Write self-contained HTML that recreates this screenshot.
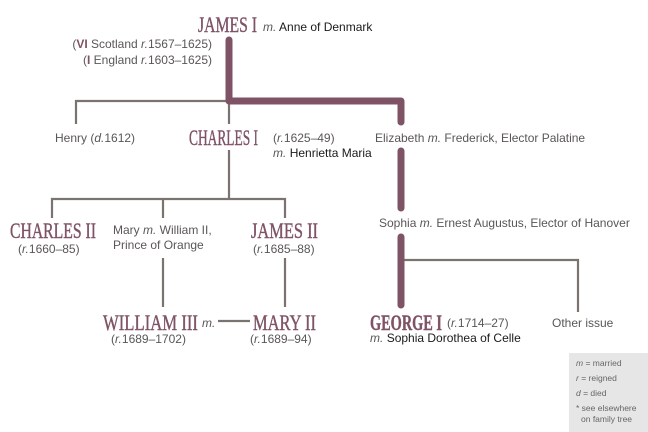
<!DOCTYPE html>
<html><head><meta charset="utf-8"><style>
html,body{margin:0;padding:0;background:#fff;}
svg{display:block;}
.t{font-family:"Liberation Sans",sans-serif;font-size:12px;fill:#5a5656;}
.b{fill:#1a1a1a;}
.n{font-family:"Liberation Serif",serif;font-size:22px;fill:#7f5366;stroke:#7f5366;stroke-width:0.4;}
.i{font-style:italic;}
.p{fill:#7f5366;font-weight:bold;}
.l{font-family:"Liberation Sans",sans-serif;font-size:8.5px;fill:#666;}
</style></head><body>
<svg width="648" height="432" viewBox="0 0 648 432" xmlns="http://www.w3.org/2000/svg">
<g stroke="#7a7370" stroke-width="2.2" fill="none">
<polyline points="76,124 76,101 229,101 229,124"/>
<line x1="229" y1="150" x2="229" y2="199"/>
<polyline points="52,218 52,199 285,199 285,218"/>
<line x1="163" y1="199" x2="163" y2="218"/>
<line x1="163" y1="258" x2="163" y2="307"/>
<line x1="285" y1="258" x2="285" y2="307"/>
<line x1="218" y1="321" x2="250" y2="321"/>
<polyline points="402,260 578,260 578,312"/>
</g>
<g stroke="#7f5366" stroke-width="7" fill="none" stroke-linecap="round" stroke-linejoin="round">
<polyline points="229,40 229,101 401,101 401,122"/>
<line x1="401" y1="151" x2="401" y2="208"/>
<line x1="401" y1="237" x2="401" y2="305"/>
</g>
<text class="n" x="198" y="32" textLength="59" lengthAdjust="spacingAndGlyphs">JAMES I</text>
<text class="t" x="263" y="31"><tspan class="i">m.</tspan> <tspan class="b">Anne of Denmark</tspan></text>
<text class="t" x="212" y="48" text-anchor="end">(<tspan class="p">VI</tspan> Scotland <tspan class="i">r.</tspan>1567–1625)</text>
<text class="t" x="212" y="64" text-anchor="end">(<tspan class="p">I</tspan> England <tspan class="i">r.</tspan>1603–1625)</text>
<text class="t" x="55" y="142">Henry (<tspan class="i">d.</tspan>1612)</text>
<text class="n" x="189" y="145" textLength="69" lengthAdjust="spacingAndGlyphs">CHARLES I</text>
<text class="t" x="273" y="142">(<tspan class="i">r.</tspan>1625–49)</text>
<text class="t" x="273" y="157"><tspan class="i">m.</tspan> <tspan class="b">Henrietta Maria</tspan></text>
<text class="t" x="375" y="142">Elizabeth <tspan class="i">m.</tspan> Frederick, Elector Palatine</text>
<text class="t" x="379" y="227">Sophia <tspan class="i">m.</tspan> Ernest Augustus, Elector of Hanover</text>
<text class="n" x="10" y="238" textLength="86" lengthAdjust="spacingAndGlyphs">CHARLES II</text>
<text class="t" x="18" y="253">(<tspan class="i">r.</tspan>1660–85)</text>
<text class="t" x="113" y="234">Mary <tspan class="i">m.</tspan> William II,</text>
<text class="t" x="113" y="249">Prince of Orange</text>
<text class="n" x="251" y="238" textLength="67" lengthAdjust="spacingAndGlyphs">JAMES II</text>
<text class="t" x="253" y="253">(<tspan class="i">r.</tspan>1685–88)</text>
<text class="n" x="103" y="330" textLength="95" lengthAdjust="spacingAndGlyphs">WILLIAM III</text>
<text class="t i" x="202" y="327">m.</text>
<text class="n" x="253" y="330" textLength="63" lengthAdjust="spacingAndGlyphs">MARY II</text>
<text class="t" x="111" y="343">(<tspan class="i">r.</tspan>1689–1702)</text>
<text class="t" x="250" y="343">(<tspan class="i">r.</tspan>1689–94)</text>
<text class="n" x="370" y="330" textLength="72" lengthAdjust="spacingAndGlyphs" font-weight="bold">GEORGE I</text>
<text class="t" x="447" y="327">(<tspan class="i">r.</tspan>1714–27)</text>
<text class="t" x="370" y="342"><tspan class="i">m.</tspan> <tspan class="b">Sophia Dorothea of Celle</tspan></text>
<text class="t" x="552" y="327">Other issue</text>
<rect x="569" y="353" width="79" height="79" fill="#e6e6e6"/>
<text class="l" x="576" y="366"><tspan class="i">m</tspan> = married</text>
<text class="l" x="576" y="381"><tspan class="i">r</tspan> = reigned</text>
<text class="l" x="576" y="396"><tspan class="i">d</tspan> = died</text>
<text class="l" x="576" y="411">* see elsewhere</text>
<text class="l" x="581" y="422">on family tree</text>
</svg>
</body></html>
